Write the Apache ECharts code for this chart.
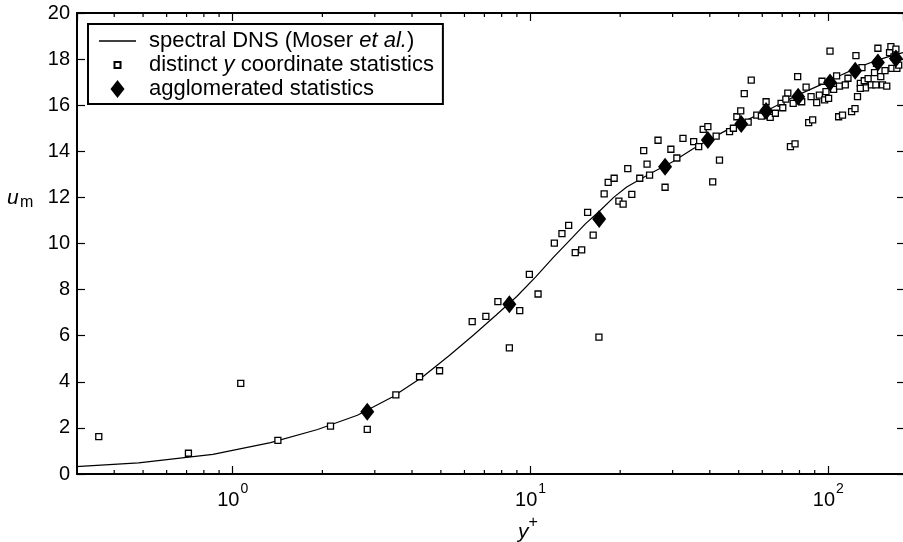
<!DOCTYPE html>
<html>
<head>
<meta charset="utf-8">
<script src="https://cdn.jsdelivr.net/npm/echarts@6/dist/echarts.min.js"></script>
<style>
html,body{margin:0;padding:0;background:#fff;}
#chart{width:903px;height:542px;}
</style>
</head>
<body>
<div id="chart"></div>
<script>
// ---- data ----
const dnsYPlus = [0.2146,0.4826,0.8577,1.340,1.928,2.622,3.423,4.328,5.338,6.452,7.669,8.989,10.41,11.93,13.56,15.28,17.10,19.02,21.03,25.35,30.02,35.05,40.43,46.13,52.17,65.12,79.16,94.10,109.96,126.4,143.4,160.6,178.12];
const dnsU = [0.21,0.48,0.85,1.36,1.93,2.55,3.33,4.2,5.14,6.04,6.9,7.7,8.55,9.4,10.15,10.85,11.42,12.0,12.45,13.05,13.55,14.1,14.56,14.95,15.3,15.9,16.45,16.88,17.3,17.65,17.92,18.12,18.28];

const distinctYPlus = [0.355,0.71,1.064,1.418,2.13,2.83,3.53,4.24,4.95,6.37,7.08,7.77,9.20,8.49,9.91,10.6,16.97,14.13,14.85,12.02,12.75,13.43,15.55,16.23,17.67,18.23,19.09,19.8,20.46,21.21,21.88,23.27,24.62,25.1,23.99,26.8,28.3,29.6,31.0,32.5,35.3,36.7,38.0,39.4,42.0,40.9,43.1,46.6,48.0,49.3,50.8,52.2,53.8,55.1,57.5,59.6,61.8,63.8,66.4,69.4,70.3,73.1,74.6,77.3,76.2,78.9,81.4,84.2,85.9,88.6,87.5,91.4,93.3,95.2,97.2,100.2,101.3,104.2,106.6,108.3,111.6,109,114,116.4,119.7,122.9,123.8,125.3,128.1,129.7,132,133.3,136,139.5,142.9,144.4,145.1,146.7,150,152,155,157.1,160.5,162.2,163.4,166.1,168.6,169.9,172.3,98.2,128,72.0];
const distinctU = [1.62,0.90,3.93,1.46,2.08,1.94,3.43,4.22,4.48,6.61,6.84,7.48,7.09,5.47,8.66,7.81,5.94,9.60,9.72,10.02,10.43,10.79,11.35,10.36,12.15,12.65,12.83,11.84,11.71,13.25,12.13,12.83,13.44,12.97,14.03,14.48,12.44,14.09,13.71,14.56,14.42,14.20,14.95,15.07,14.66,12.67,13.62,14.85,15.0,15.50,15.75,16.5,15.27,17.09,15.57,15.53,16.15,15.47,15.65,16.08,15.89,16.52,14.20,14.32,16.08,17.24,16.15,16.78,15.24,15.36,16.37,16.11,16.44,17.04,16.23,16.30,18.35,16.69,17.27,15.50,15.57,16.83,16.88,17.17,15.72,15.85,18.15,16.37,16.95,17.63,17.06,16.75,17.15,16.88,17.41,16.88,17.82,18.47,17.24,16.88,17.50,16.83,18.28,18.54,17.60,18.10,18.43,17.60,17.74,16.59,16.73,16.26];

const aggYPlus = [2.83,8.49,17.0,28.3,39.4,51.0,61.8,79.2,101.3,123.1,146.7,168.6];
const aggU = [2.70,7.36,11.06,13.33,14.49,15.18,15.75,16.37,16.99,17.50,17.85,18.03];

const minorTickValues = [0.4,0.5,0.6,0.7,0.8,0.9,2,3,4,5,6,7,8,9,20,30,40,50,60,70,80,90];

const xMin = 0.3, xMax = 178.12;

const names = ['spectral DNS (Moser et al.)','distinct y coordinate statistics','agglomerated statistics'];

// ---- chart ----
const FONT = "'Liberation Sans', Arial, Helvetica, sans-serif";
const chart = echarts.init(document.getElementById('chart'), null, {renderer:'canvas'});

function zip(a,b){ return a.map((v,i)=>[v,b[i]]); }

const supLabel = {
  b:{fontSize:20, fontFamily:FONT, color:'#000', padding:[8,0,0,0]},
  s:{fontSize:14, fontFamily:FONT, color:'#000', verticalAlign:'top', padding:[0,0,0,1]}
};

const option = {
  backgroundColor:'#fff',
  animation:false,
  grid:{left:77, right:0, top:13, bottom:68, containLabel:false, outerBoundsMode:'none'},
  legend:{
    left:88, top:24, orient:'vertical',
    backgroundColor:'#fff',
    borderColor:'#000', borderWidth:2, borderRadius:0,
    padding:[6,9,4,11],
    itemWidth:37, itemHeight:18, itemGap:2,
    selectedMode:false,
    data:[
      {name:names[0], icon:'path://M0 0H37V1.3H0Z'},
      {name:names[1], icon:'path://M0 0M18 18M6 6H12V12H6Z'},
      {name:names[2], icon:'path://M7 0L14 9L7 18L0 9Z'}
    ],
    formatter:function(name){
      if(name===names[0]) return '{n|spectral DNS (Moser }{i|et al.}{n|)}';
      if(name===names[1]) return '{n|distinct }{i|y}{n| coordinate statistics}';
      return '{n|'+name+'}';
    },
    textStyle:{
      fontFamily:FONT, fontSize:22, color:'#000', padding:[0,0,0,8],
      rich:{
        n:{fontFamily:FONT, fontSize:22, color:'#000'},
        i:{fontFamily:FONT, fontSize:22, color:'#000', fontStyle:'italic'}
      }
    }
  },
  xAxis:[
    {
      type:'log', logBase:10, min:xMin, max:xMax, position:'bottom',
      axisLine:{show:true, onZero:false, lineStyle:{color:'#000', width:2}},
      axisTick:{show:true, inside:true, length:8, lineStyle:{color:'#000', width:1.2}},
      splitLine:{show:false},
      axisLabel:{
        show:true, margin:8, showMinLabel:false, showMaxLabel:false,
        formatter:function(v){ const e=Math.round(Math.log10(v)); return '{b|10}{s|'+e+'}'; },
        rich:supLabel
      },
      name:'{i|y}{s|+}', nameLocation:'middle', nameGap:27,
      nameTextStyle:{
        padding:[0,0,0,76],
        rich:{
          i:{fontSize:21, fontFamily:FONT, fontStyle:'italic', color:'#000', padding:[7,0,0,0]},
          s:{fontSize:16, fontFamily:FONT, color:'#000', verticalAlign:'top'}
        }
      }
    },
    {
      type:'log', logBase:10, min:xMin, max:xMax, position:'top',
      axisLine:{show:true, onZero:false, lineStyle:{color:'#000', width:2}},
      axisTick:{show:true, inside:true, length:8, lineStyle:{color:'#000', width:1.2}},
      splitLine:{show:false},
      axisLabel:{show:false}
    }
  ],
  yAxis:[
    {
      type:'value', min:0, max:20, interval:2, position:'left',
      axisLine:{show:true, onZero:false, lineStyle:{color:'#000', width:2}},
      axisTick:{show:true, inside:true, length:8, lineStyle:{color:'#000', width:1.2}},
      splitLine:{show:false},
      axisLabel:{show:true, margin:7, fontSize:20, fontFamily:FONT, color:'#000'}
    },
    {
      type:'value', min:0, max:20, interval:2, position:'right',
      axisLine:{show:false},
      axisTick:{show:true, inside:true, length:6, lineStyle:{color:'#000', width:1.2}},
      splitLine:{show:false},
      axisLabel:{show:false}
    }
  ],
  graphic:[
    {type:'text', x:7, y:188, style:{text:'u', font:"italic 21px "+FONT, fill:'#000', textBaseline:'alphabetic'}},
    {type:'text', x:20, y:195, style:{text:'m', font:"16px "+FONT, fill:'#000', textBaseline:'alphabetic'}}
  ],
  series:[
    {
      name:'minor ticks', type:'custom', xAxisIndex:0, yAxisIndex:0, silent:true, clip:false, z:5,
      data:minorTickValues.map(v=>[v,0]),
      renderItem:function(params, api){
        const cs = params.coordSys;
        const px = api.coord([api.value(0), 0])[0];
        const top = cs.y, bot = cs.y + cs.height;
        return {type:'group', children:[
          {type:'line', shape:{x1:px, y1:bot, x2:px, y2:bot-4}, style:{stroke:'#000', lineWidth:1.2}},
          {type:'line', shape:{x1:px, y1:top, x2:px, y2:top+4}, style:{stroke:'#000', lineWidth:1.2}}
        ]};
      }
    },
    {
      name:names[0], type:'line', xAxisIndex:0, yAxisIndex:0,
      data:zip(dnsYPlus, dnsU), showSymbol:false, symbol:'none', smooth:false,
      lineStyle:{color:'#000', width:1.2}, itemStyle:{color:'#000'}, z:2
    },
    {
      name:names[1], type:'scatter', xAxisIndex:0, yAxisIndex:0,
      data:zip(distinctYPlus, distinctU), symbol:'rect', symbolSize:6,
      itemStyle:{color:'#fff', borderColor:'#000', borderWidth:1.3, opacity:1}, z:3
    },
    {
      name:names[2], type:'scatter', xAxisIndex:0, yAxisIndex:0,
      data:zip(aggYPlus, aggU), symbol:'diamond', symbolSize:[14,18],
      itemStyle:{color:'#000', borderColor:'#000', borderWidth:0, opacity:1}, z:4
    }
  ]
};
chart.setOption(option);
</script>
</body>
</html>
